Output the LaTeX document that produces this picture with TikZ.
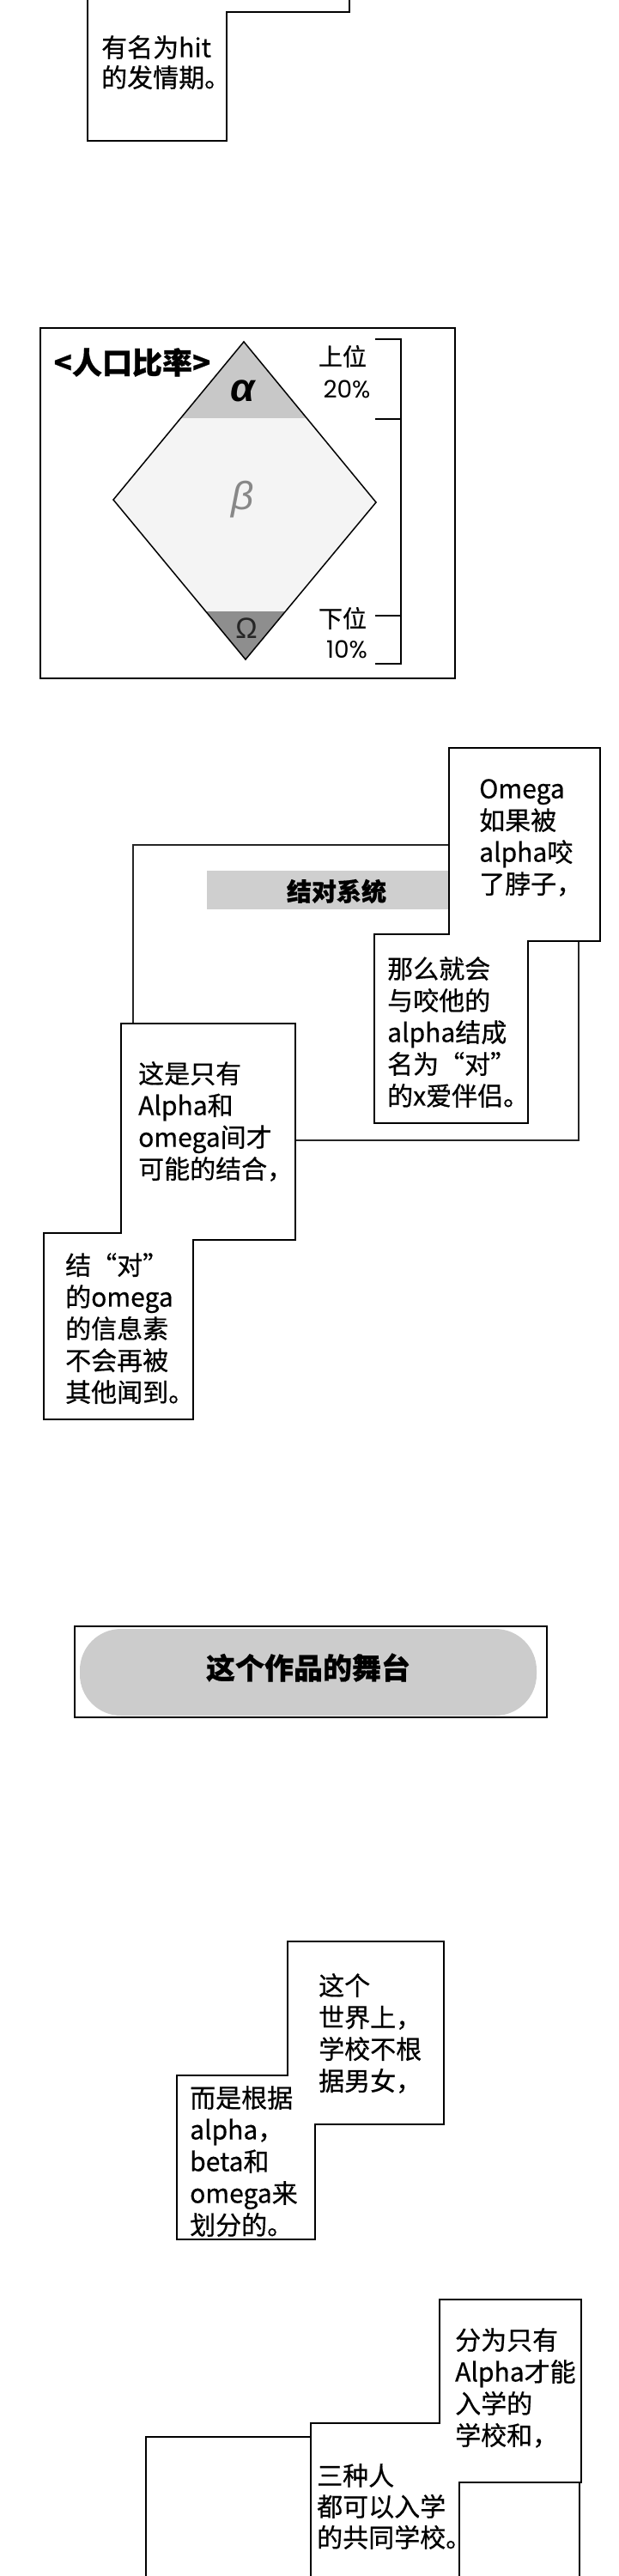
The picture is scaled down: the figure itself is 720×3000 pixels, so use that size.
\documentclass[tikz,border=0pt]{standalone}
\usepackage{fontspec}
\setmainfont{Noto Sans CJK SC}[FakeBold=0.6]
\newfontfamily\grk{Liberation Sans}
\newfontfamily\pct{Poppins}
\definecolor{alphac}{HTML}{C8C8C8}
\definecolor{betac}{HTML}{F4F4F4}
\definecolor{omegac}{HTML}{8E8E8E}
\definecolor{bandc}{HTML}{CFCFCF}
\definecolor{pillc}{HTML}{CCCCCC}
\definecolor{betatxt}{HTML}{888888}
\begin{document}
\begin{tikzpicture}[x=1pt,y=-1pt,
  box/.style={draw=black, fill=white, line width=1.3pt},
  frame/.style={draw=black, line width=2pt},
  txt/.style={anchor=north west, inner sep=0pt, align=left, font=\fontsize{30}{37}\selectfont},
  lbl/.style={inner sep=0pt}]
\clip (0,0) rectangle (720,3000);
\fill[white] (0,0) rectangle (720,3000);

% ---------- section 1
\draw[box] (102,-5) -- (102,164) -- (264,164) -- (264,14) -- (407,14) -- (407,-5) -- cycle;
\node[txt, font=\fontsize{30}{35}\selectfont] (t1) at (118,41) {有名为hit\\的发情期。};

% ---------- section 2
\draw[frame] (47,382) rectangle (530,790);
\coordinate (T) at (284,398);
\coordinate (L) at (132,582);
\coordinate (R) at (438,585);
\coordinate (B) at (286,768);
\begin{scope}
  \clip (T) -- (R) -- (B) -- (L) -- cycle;
  \fill[betac] (0,380) rectangle (720,800);
  \fill[alphac] (0,380) rectangle (720,487);
  \fill[omegac] (0,712) rectangle (720,800);
\end{scope}
\draw[line width=1.5pt, line join=miter] (T) -- (R) -- (B) -- (L) -- cycle;
\node[lbl, font=\bfseries\fontsize{35}{35}\selectfont] (title) at (154,422) {<人口比率>};
\node[lbl, font=\grk\bfseries\itshape\fontsize{46}{46}\selectfont] (al) at (283,455) {α};
\node[lbl, text=betatxt, font=\grk\itshape\fontsize{46}{46}\selectfont] (be) at (283,582) {β};
\node[lbl, text=black!85, font=\grk\fontsize{34}{34}\selectfont] (om) at (287,732) {Ω};
\coordinate (b1) at (437,395);
\coordinate (b2) at (467,395);
\coordinate (b3) at (467,773);
\coordinate (b4) at (437,773);
\coordinate (m1) at (437,488);
\coordinate (m1r) at (467,488);
\coordinate (m2) at (437,717);
\coordinate (m2r) at (467,717);
\draw[line width=2.5pt] (b1) -- (b2) -- (b3) -- (b4);
\draw[line width=2.5pt] (m1) -- (m1r);
\draw[line width=2.5pt] (m2) -- (m2r);
\node[lbl, font=\fontsize{28}{28}\selectfont] (up) at (399,415) {上位};
\node[lbl, font=\pct\fontsize{28}{28}\selectfont] (p20) at (404,453) {20\%};
\node[lbl, font=\fontsize{28}{28}\selectfont] (dn) at (399,720) {下位};
\node[lbl, font=\pct\fontsize{28}{28}\selectfont] (p10) at (404,756) {10\%};

% ---------- section 3
\draw[frame, draw=black!85] (155,984) rectangle (674,1328);
\fill[bandc] (241,1014) rectangle (523,1059);
\node[lbl, font=\bfseries\fontsize{29}{29}\selectfont] (pair) at (392,1038) {结对系统};
\draw[box] (523,871) -- (699,871) -- (699,1096) -- (615,1096) -- (615,1308) -- (436,1308) -- (436,1088) -- (523,1088) -- cycle;
\node[txt] (ta1) at (558,907) {Omega\\如果被\\alpha咬\\了脖子，};
\node[txt] (ta2) at (451,1114) {那么就会\\与咬他的\\alpha结成\\名为“对”\\的x爱伴侣。};
\draw[box] (141,1192) -- (344,1192) -- (344,1444) -- (225,1444) -- (225,1653) -- (51,1653) -- (51,1436) -- (141,1436) -- cycle;
\node[txt] (tb1) at (161,1236) {这是只有\\Alpha和\\omega间才\\可能的结合，};
\node[txt] (tb2) at (76,1459) {结“对”\\的omega\\的信息素\\不会再被\\其他闻到。};

% ---------- section 4
\draw[line width=2.5pt] (87,1894) rectangle (637,2000);
\fill[pillc, rounded corners=48pt] (93,1897) rectangle (625,1998);
\node[lbl, font=\bfseries\fontsize{34}{34}\selectfont] (stage) at (359,1942) {这个作品的舞台};

% ---------- section 5
\draw[box] (335,2261) -- (517,2261) -- (517,2474) -- (367,2474) -- (367,2608) -- (206,2608) -- (206,2417) -- (335,2417) -- cycle;
\node[txt] (tc1) at (371,2298) {这个\\世界上，\\学校不根\\据男女，};
\node[txt] (tc2) at (221,2429) {而是根据\\alpha，\\beta和\\omega来\\划分的。};

% ---------- section 6
\draw[frame] (170,2838) rectangle (675,3010);
\draw[box] (512,2678) -- (677,2678) -- (677,2891) -- (535,2891) -- (535,3010) -- (362,3010) -- (362,2822) -- (512,2822) -- cycle;
\node[txt] (td1) at (530,2711) {分为只有\\Alpha才能\\入学的\\学校和，};
\node[txt, font=\fontsize{30}{36}\selectfont] (td2) at (369,2869) {三种人\\都可以入学\\的共同学校。};
\end{tikzpicture}
\end{document}
